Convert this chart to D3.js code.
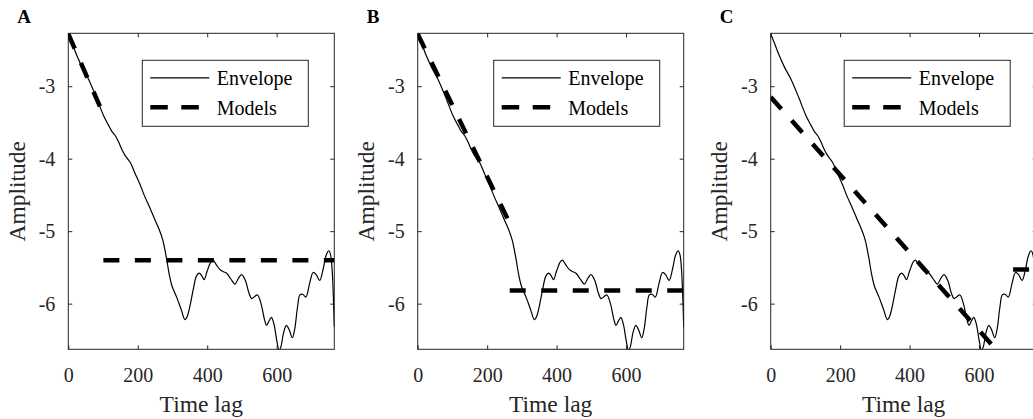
<!DOCTYPE html>
<html>
<head>
<meta charset="utf-8">
<script src="https://cdn.jsdelivr.net/npm/d3@7"></script>
<style>
  body { margin: 0; background: #fff; }
  text { font-family: "Liberation Serif", "Times New Roman", serif; }
</style>
</head>
<body>
<div id="chart-area"></div>
<script>
// envelope (time lag, amplitude), same in every panel
var envT = [0,12,24,40,58,82,101,115,125,135,144,155,163,178,192,206,220,235,250,262,272,283,290,298,312,325,336,343,350,360,369,377,385,391,400,411,417,427,437,447,456,468,480,490,499,510,520,528,537,545,555,565,571,578,585,593,600,607,612,620,628,636,645,652,660,667,675,684,695,705,714,724,734,742,750,755,760,764,766];
var envV = [-2.28,-2.42,-2.57,-2.74,-2.90,-3.17,-3.40,-3.53,-3.62,-3.68,-3.76,-3.88,-3.95,-4.05,-4.20,-4.35,-4.52,-4.68,-4.85,-4.98,-5.12,-5.38,-5.58,-5.75,-5.91,-6.08,-6.22,-6.17,-6.04,-5.80,-5.62,-5.58,-5.62,-5.67,-5.55,-5.42,-5.40,-5.47,-5.53,-5.56,-5.58,-5.66,-5.73,-5.65,-5.60,-5.68,-5.85,-5.93,-5.90,-5.88,-6.00,-6.22,-6.30,-6.24,-6.19,-6.30,-6.50,-6.64,-6.60,-6.40,-6.30,-6.36,-6.47,-6.35,-6.05,-5.88,-5.87,-5.91,-5.72,-5.57,-5.60,-5.68,-5.52,-5.34,-5.27,-5.32,-5.55,-6.0,-6.32];

// model segments per panel: [t0, v0, t1, v1]
var modelsA = [[0,-2.28,93,-3.30],[101,-5.40,766,-5.40]];
var modelsB = [[0,-2.28,261,-4.85],[265,-5.82,766,-5.82]];
var modelsC = [[0,-3.15,641,-6.59],[698,-5.53,790,-5.53]];

var panelLabels = ["A","B","C"];
var xTicks = [0,200,400,600];
var yTicks = [-6,-5,-4,-3];
var xDomain = [0,766];
var yDomain = [-6.63,-2.27];
var legendLabels = ["Envelope","Models"];

var envelope = envT.map(function(t,i){ return {t:t, v:envV[i]}; });
var panels = [
  {label:panelLabels[0], models:modelsA, left:68.3, legendX:74},
  {label:panelLabels[1], models:modelsB, left:417.7, legendX:76},
  {label:panelLabels[2], models:modelsC, left:770.7, legendX:73.5}
];

var W = 1033, H = 419;
var top0 = 33.3, width = 266, height = 316;
var axisColor = "#262626";

var svg = d3.select("#chart-area").append("svg")
    .attr("width", W)
    .attr("height", H);

var x = d3.scaleLinear().domain(xDomain).range([0,width]);
var y = d3.scaleLinear().domain(yDomain).range([height,0]);

var line = d3.line()
    .x(function(d){ return x(d.t); })
    .y(function(d){ return y(d.v); });
var smooth = d3.line()
    .curve(d3.curveCatmullRom.alpha(0.5))
    .x(function(d){ return x(d.t); })
    .y(function(d){ return y(d.v); });

var fmt = function(d){ return String(d); };

panels.forEach(function(p, k){
    var g = svg.append("g")
        .attr("transform","translate("+p.left+","+top0+")");

    g.append("clipPath").attr("id","clip"+k)
      .append("rect").attr("width",width).attr("height",height);

    // axes, ticks inside like matlab
    var bottom = g.append("g")
        .attr("transform","translate(0,"+height+")")
        .call(d3.axisBottom(x).tickValues(xTicks).tickFormat(fmt).tickSizeInner(-4).tickSizeOuter(0).tickPadding(18.5));
    var left = g.append("g")
        .call(d3.axisLeft(y).tickValues(yTicks).tickFormat(fmt).tickSizeInner(-4).tickSizeOuter(0).tickPadding(13));
    var topAx = g.append("g")
        .call(d3.axisTop(x).tickValues(xTicks).tickSizeInner(-4).tickSizeOuter(0).tickFormat(""));
    var rightAx = g.append("g")
        .attr("transform","translate("+width+",0)")
        .call(d3.axisRight(y).tickValues(yTicks).tickSizeInner(-4).tickSizeOuter(0).tickFormat(""));

    [bottom,left,topAx,rightAx].forEach(function(a){
        a.attr("font-family",null);
        a.select(".domain").remove();
        a.selectAll("line").attr("stroke",axisColor);
        a.selectAll("text")
            .attr("fill",axisColor)
            .attr("font-size","20px");
    });

    g.append("rect")
        .attr("width",width).attr("height",height)
        .attr("fill","none").attr("stroke",axisColor).attr("stroke-width",1);

    var plot = g.append("g").attr("clip-path","url(#clip"+k+")");

    plot.append("path")
        .datum(envelope)
        .attr("d",smooth)
        .attr("fill","none")
        .attr("stroke","#000")
        .attr("stroke-width",1.2);

    plot.selectAll(".model")
        .data(p.models)
        .enter().append("path")
        .attr("class","model")
        .attr("d",function(m){ return line([{t:m[0],v:m[1]},{t:m[2],v:m[3]}]); })
        .attr("fill","none")
        .attr("stroke","#000")
        .attr("stroke-width",4.5)
        .attr("stroke-dasharray","16 15.5");

    // legend
    var lg = g.append("g").attr("transform","translate("+p.legendX+",27)");
    lg.append("rect")
        .attr("width",166).attr("height",66)
        .attr("fill","#fff").attr("stroke",axisColor).attr("stroke-width",1);
    lg.append("line")
        .attr("x1",8).attr("x2",67).attr("y1",17.5).attr("y2",17.5)
        .attr("stroke","#000").attr("stroke-width",1.2);
    lg.append("line")
        .attr("x1",8).attr("x2",67).attr("y1",47).attr("y2",47)
        .attr("stroke","#000").attr("stroke-width",4.5)
        .attr("stroke-dasharray","17.5 13.5");
    lg.selectAll(".lt")
        .data(legendLabels)
        .enter().append("text")
        .attr("class","lt")
        .attr("x",74.5)
        .attr("y",function(d,i){ return 24.5+i*30; })
        .attr("font-size","20px")
        .attr("fill","#000")
        .text(function(d){ return d; });

    // axis labels
    g.append("text")
        .attr("x",width/2)
        .attr("y",height+62.4)
        .attr("text-anchor","middle")
        .attr("font-size","23.5px")
        .attr("fill",axisColor)
        .text("Time lag");

    g.append("text")
        .attr("transform","rotate(-90)")
        .attr("x",-height/2)
        .attr("y",-43.3)
        .attr("text-anchor","middle")
        .attr("font-size","23.5px")
        .attr("fill",axisColor)
        .text("Amplitude");

    g.append("text")
        .attr("x",-51)
        .attr("y",-10.5)
        .attr("font-size","19px")
        .attr("font-weight","bold")
        .attr("fill","#000")
        .text(p.label);
});
</script>
</body>
</html>
